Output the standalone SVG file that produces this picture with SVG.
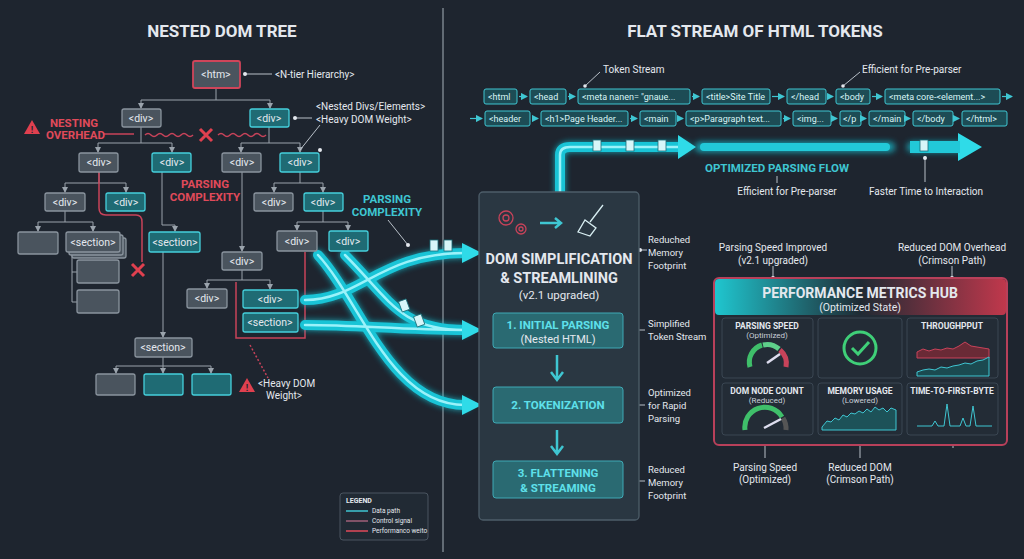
<svg xmlns="http://www.w3.org/2000/svg" width="1024" height="559" viewBox="0 0 1024 559">
<defs>
<style>
text{font-family:"Roboto","Liberation Sans",sans-serif;fill:#e4e8ee}
.t{font-size:10.5px;text-anchor:middle}
.h{font-weight:bold;font-size:17px;text-anchor:middle}
.lb{font-size:10px}
.sl{font-size:9.5px}
.red{fill:#e04a5a;font-weight:bold;font-size:11.5px}
.cy{fill:#3fc6d2;font-weight:bold;font-size:11.5px}
.g{fill:#4a545e;stroke:#8a949e;stroke-width:1.3}
.c{fill:#1f6b74;stroke:#45d0dc;stroke-width:1.3}
.r{fill:none;stroke:#c8435a;stroke-width:1.5}
.tk{fill:#1d4c55;stroke:#3fc6d2;stroke-width:1}
.tkt{font-size:9px;fill:#d8f4f6}
.ar{fill:none;stroke:#9aa3ac;stroke-width:1}
.tube{fill:none;stroke:#19c4d6;stroke-width:10;stroke-linecap:round}
.tin{fill:none;stroke:#9af2fa;stroke-width:2.5;stroke-linecap:round}
.pn{fill:#232c36;stroke:#3a4652;stroke-width:1}
.pt{font-size:8.5px;font-weight:bold;text-anchor:middle}
.ps{font-size:8px;text-anchor:middle;fill:#c8ced6}
.dot{fill:#e4e8ee}
.wl{stroke:#b8c0c8;stroke-width:1;fill:none}
</style>
<marker id="m" markerWidth="6" markerHeight="6" refX="5" refY="3" orient="auto"><path d="M0,0 L6,3 L0,6 z" fill="#9aa3ac"/></marker>
<marker id="mc" markerWidth="6" markerHeight="6" refX="5" refY="3" orient="auto"><path d="M0,0 L6,3 L0,6 z" fill="#3fc6d2"/></marker>
<filter id="gl" x="-20%" y="-20%" width="140%" height="140%"><feGaussianBlur stdDeviation="3"/></filter>
<linearGradient id="hg" x1="0" x2="1"><stop offset="0" stop-color="#1fc6cf"/><stop offset="0.5" stop-color="#1f2a33"/><stop offset="1" stop-color="#c0384c"/></linearGradient>
</defs>
<rect width="1024" height="559" fill="#1e252f"/>
<line x1="443" y1="8" x2="443" y2="552" stroke="#7a838c" stroke-width="1.5"/>
<text class="h" x="222" y="37">NESTED DOM TREE</text>
<text class="h" x="755" y="37">FLAT STREAM OF HTML TOKENS</text>

<g id="connectors">
<g class="ar">
<path d="M216,88 V100 M141,100 H270 M98,143 H172 M241,143 H300 M65,183 H126 M274,183 H323 M38,222 H93 M297,222 H348 M207,280 H270 M116,366 H211 M141,127 V143 M269,127 V143 M99,172 V183 M300,172 V183 M65,211 V222 M323,211 V222 M242,270 V280 M163,357 V366"/>
</g>
<g class="ar" marker-end="url(#m)">
<path d="M141,100 V108"/><path d="M270,100 V108"/>
<path d="M98,143 V152"/><path d="M172,143 V152"/><path d="M241,143 V152"/><path d="M300,143 V152"/>
<path d="M65,183 V192"/><path d="M126,183 V192"/><path d="M274,183 V192"/><path d="M323,183 V192"/>
<path d="M38,222 V231"/><path d="M93,222 V231"/><path d="M297,222 V230"/><path d="M348,222 V230"/>
<path d="M162,172 V225 H175 V231"/><path d="M242,172 V251"/><path d="M163,252 V337"/>
<path d="M207,280 V288"/><path d="M270,280 V289"/>
<path d="M116,366 V373"/><path d="M163,366 V373"/><path d="M211,366 V373"/>
</g>
<path class="ar" d="M72,252 V302 H77 M72,272 H77"/>
<path class="r" d="M99,172 V208 Q99,215 106,215 H136 Q142,215 142,222 V262"/>
<path class="r" d="M305,252 V338 H236 V282"/>
<path class="r" stroke-dasharray="2,2" d="M250,345 L268,378"/>
<path class="r" d="M145,135 q3,-3 6,0 t6,0 t6,0 t6,0 t6,0 t6,0 t6,0 t6,0 M218,135 q3,-3 6,0 t6,0 t6,0 t6,0 t6,0 t6,0 t6,0 t6,0"/>
<path d="M200,129 L212,141 M212,129 L200,141 M132,264 L144,276 M144,264 L132,276" stroke="#e0404f" stroke-width="3"/>
<path class="r" d="M103,134 H134"/>
<path class="wl" d="M245,74 H272 M295,118 H312 M320,125 L300,150 M388,220 L408,245"/>
<circle class="dot" cx="245" cy="74" r="2"/><circle class="dot" cx="295" cy="118" r="2"/><circle class="dot" cx="320" cy="150" r="2"/><circle class="dot" cx="408" cy="245" r="2"/>
<g filter="url(#gl)" opacity="0.8">
<path class="tube" d="M318,255 C360,300 390,405 465,405"/>
<path class="tube" d="M345,255 C390,300 400,330 465,330"/>
<path class="tube" d="M305,300 C360,300 380,253 465,253"/>
<path class="tube" d="M305,325 C360,325 400,330 465,330"/>
<path class="tube" d="M560,192 V155 Q560,147 570,147 H685"/>
<path class="tube" d="M700,147 H890"/>
<path class="tube" d="M912,147 H960"/>
</g>
<path class="tube" stroke-width="6" d="M318,255 C360,300 390,405 465,405"/>
<path class="tube" stroke-width="6" d="M345,255 C390,300 400,330 465,330"/>
<path class="tube" stroke-width="6" d="M305,300 C360,300 380,253 465,253"/>
<path class="tube" stroke-width="6" d="M305,325 C360,325 400,330 465,330"/>
<path class="tin" d="M318,255 C360,300 390,405 465,405 M345,255 C390,300 400,330 465,330 M305,300 C360,300 380,253 465,253 M305,325 C360,325 400,330 465,330"/>
<path d="M462,243 L482,253 L462,263 z M462,320 L482,330 L462,340 z M462,395 L482,405 L462,415 z" fill="#2fdbe8"/>
<path class="tube" stroke-width="8" d="M560,192 V155 Q560,147 570,147 H680"/>
<path class="tin" d="M560,192 V155 Q560,147 570,147 H680"/>
<path d="M678,135 L696,147 L678,159 z M958,133 L982,147 L958,161 z" fill="#2fdbe8"/>
<rect x="700" y="143" width="190" height="8" rx="4" fill="#22c8d8"/>
<rect x="910" y="141" width="50" height="12" fill="#22c8d8"/>
<g fill="#d7f6f9" stroke="#1a6d78" stroke-width="0.8">
<rect x="593" y="140" width="8" height="11"/><rect x="626" y="140" width="8" height="11"/><rect x="658" y="140" width="8" height="11"/><rect x="920" y="140" width="8" height="11"/>
<rect x="430" y="240" width="8" height="11"/><rect x="444" y="240" width="8" height="11"/><rect x="400" y="300" width="8" height="11" transform="rotate(-20 404 305)"/><rect x="415" y="315" width="8" height="11" transform="rotate(-20 419 320)"/>
</g>
<path class="wl" d="M925,156 V182"/><circle class="dot" cx="925" cy="158" r="2"/>
<path class="wl" d="M777,176 V183 M585,86 L600,72 M843,86 L860,72"/><circle class="dot" cx="585" cy="86" r="1.8"/><circle class="dot" cx="843" cy="86" r="1.8"/>
<path class="wl" d="M640,250 H647 M623,330 H645 M623,405 H645 M623,481 H645"/>
<circle class="dot" cx="640" cy="250" r="2"/><circle class="dot" cx="623" cy="330" r="2"/><circle class="dot" cx="623" cy="405" r="2"/><circle class="dot" cx="623" cy="481" r="2"/>
<path class="wl" d="M773,266 V278 M952,266 V278 M765,437 V458 M860,437 V458 M953,437 V448"/>
<circle class="dot" cx="773" cy="278" r="2"/><circle class="dot" cx="952" cy="278" r="2"/><circle class="dot" cx="765" cy="435" r="2"/><circle class="dot" cx="860" cy="435" r="2"/><circle class="dot" cx="953" cy="435" r="2"/>
</g>

<g id="n-htm"><rect x="193" y="61" width="47" height="27" rx="2" fill="#4a545e" stroke="#d0455a" stroke-width="1.8"/><text class="t" x="216" y="78">&lt;htm&gt;</text></g>
<text class="lb" x="275" y="78">&lt;N-tier Hierarchy&gt;</text>
<g id="n-d1"><rect class="g" x="122" y="109" width="39" height="18" rx="2"/><text class="t" x="141" y="122">&lt;div&gt;</text></g>
<g id="n-d2"><rect class="c" x="250" y="109" width="39" height="18" rx="2"/><text class="t" x="269" y="122">&lt;div&gt;</text></g>
<text class="lb" x="316" y="110">&lt;Nested Divs/Elements&gt;</text>
<text class="lb" x="316" y="123">&lt;Heavy DOM Weight&gt;</text>
<g id="warn1"><path d="M32,120 L40,134 H24 z" fill="#e0404f"/><text x="32" y="133" font-size="9" font-weight="bold" text-anchor="middle" style="fill:#1e252f">!</text></g>
<text class="red" x="50" y="127">NESTING</text><text class="red" x="46" y="139">OVERHEAD</text>
<g id="n-d3"><rect class="g" x="79" y="153" width="39" height="19" rx="2"/><text class="t" x="99" y="166">&lt;div&gt;</text></g>
<g id="n-d4"><rect class="c" x="152" y="153" width="39" height="19" rx="2"/><text class="t" x="172" y="166">&lt;div&gt;</text></g>
<g id="n-d5"><rect class="g" x="222" y="153" width="39" height="19" rx="2"/><text class="t" x="242" y="166">&lt;div&gt;</text></g>
<g id="n-d6"><rect class="c" x="280" y="153" width="39" height="19" rx="2"/><text class="t" x="300" y="166">&lt;div&gt;</text></g>
<text class="red" x="205" y="188" text-anchor="middle">PARSING</text><text class="red" x="205" y="201" text-anchor="middle">COMPLEXITY</text>
<text class="cy" x="387" y="203" text-anchor="middle">PARSING</text><text class="cy" x="387" y="216" text-anchor="middle">COMPLEXITY</text>
<g id="n-d7"><rect class="g" x="45" y="193" width="40" height="18" rx="2"/><text class="t" x="65" y="206">&lt;div&gt;</text></g>
<g id="n-d8"><rect class="c" x="106" y="193" width="39" height="18" rx="2"/><text class="t" x="126" y="206">&lt;div&gt;</text></g>
<g id="n-d9"><rect class="g" x="254" y="193" width="39" height="18" rx="2"/><text class="t" x="274" y="206">&lt;div&gt;</text></g>
<g id="n-d10"><rect class="c" x="304" y="193" width="39" height="18" rx="2"/><text class="t" x="323" y="206">&lt;div&gt;</text></g>
<g id="n-b1"><rect class="g" x="18" y="232" width="40" height="22" rx="2"/></g>
<g id="n-s1"><rect class="g" x="72" y="238" width="54" height="20" rx="2"/><rect class="g" x="69" y="235" width="54" height="20" rx="2"/><rect class="g" x="66" y="232" width="54" height="20" rx="2"/><text class="t" x="93" y="246">&lt;section&gt;</text></g>
<g id="n-s2"><rect class="c" x="149" y="232" width="51" height="20" rx="2"/><text class="t" x="175" y="246">&lt;section&gt;</text></g>
<g id="n-d11"><rect class="g" x="277" y="231" width="40" height="20" rx="2"/><text class="t" x="297" y="245">&lt;div&gt;</text></g>
<g id="n-d12"><rect class="c" x="329" y="231" width="39" height="20" rx="2"/><text class="t" x="348" y="245">&lt;div&gt;</text></g>
<g id="n-b2"><rect class="g" x="77" y="260" width="42" height="23" rx="2"/></g>
<g id="n-b3"><rect class="g" x="77" y="290" width="42" height="23" rx="2"/></g>
<g id="n-d13"><rect class="g" x="222" y="252" width="40" height="18" rx="2"/><text class="t" x="242" y="265">&lt;div&gt;</text></g>
<g id="n-d14"><rect class="g" x="187" y="289" width="40" height="19" rx="2"/><text class="t" x="207" y="302">&lt;div&gt;</text></g>
<g id="n-d15"><rect class="c" x="243" y="290" width="55" height="18" rx="2"/><text class="t" x="270" y="303">&lt;div&gt;</text></g>
<g id="n-s3"><rect class="c" x="243" y="313" width="55" height="19" rx="2"/><text class="t" x="270" y="326">&lt;section&gt;</text></g>
<g id="n-s4"><rect class="g" x="135" y="338" width="57" height="19" rx="2"/><text class="t" x="163" y="351">&lt;section&gt;</text></g>
<g id="n-b4"><rect class="g" x="96" y="374" width="39" height="21" rx="2"/></g>
<g id="n-b5"><rect class="c" x="144" y="374" width="39" height="21" rx="2"/></g>
<g id="n-b6"><rect class="c" x="192" y="374" width="39" height="21" rx="2"/></g>
<g id="warn2"><path d="M247,378 L255,392 H239 z" fill="#e0404f"/><text x="247" y="391" font-size="9" font-weight="bold" text-anchor="middle" style="fill:#1e252f">!</text></g>
<text class="lb" x="258" y="387">&lt;Heavy DOM</text><text class="lb" x="266" y="399">Weight&gt;</text>

<g id="tokens">
<rect class="tk" x="484" y="89" width="33" height="15" rx="2"/><text class="tkt" x="488" y="100">&lt;html</text>
<rect class="tk" x="530" y="89" width="36" height="15" rx="2"/><text class="tkt" x="534" y="100">&lt;head</text>
<rect class="tk" x="578" y="89" width="112" height="15" rx="2"/><text class="tkt" x="582" y="100">&lt;meta nanen= "gnaue...</text>
<rect class="tk" x="702" y="89" width="68" height="15" rx="2"/><text class="tkt" x="706" y="100">&lt;title&gt;Site Title</text>
<rect class="tk" x="787" y="89" width="39" height="15" rx="2"/><text class="tkt" x="791" y="100">&lt;/head</text>
<rect class="tk" x="836" y="89" width="34" height="15" rx="2"/><text class="tkt" x="840" y="100">&lt;body</text>
<rect class="tk" x="885" y="89" width="115" height="15" rx="2"/><text class="tkt" x="889" y="100">&lt;meta core-&lt;element...&gt;</text>
<rect class="tk" x="485" y="111" width="45" height="15" rx="2"/><text class="tkt" x="489" y="122">&lt;header</text>
<rect class="tk" x="541" y="111" width="87" height="15" rx="2"/><text class="tkt" x="545" y="122">&lt;h1&gt;Page Header...</text>
<rect class="tk" x="640" y="111" width="36" height="15" rx="2"/><text class="tkt" x="644" y="122">&lt;main</text>
<rect class="tk" x="686" y="111" width="95" height="15" rx="2"/><text class="tkt" x="690" y="122">&lt;p&gt;Paragraph text...</text>
<rect class="tk" x="793" y="111" width="38" height="15" rx="2"/><text class="tkt" x="797" y="122">&lt;img...</text>
<rect class="tk" x="840" y="111" width="21" height="15" rx="2"/><text class="tkt" x="843" y="122">&lt;/p</text>
<rect class="tk" x="869" y="111" width="36" height="15" rx="2"/><text class="tkt" x="873" y="122">&lt;/main</text>
<rect class="tk" x="913" y="111" width="40" height="15" rx="2"/><text class="tkt" x="917" y="122">&lt;/body</text>
<rect class="tk" x="962" y="111" width="45" height="15" rx="2"/><text class="tkt" x="966" y="122">&lt;/html&gt;</text>
<g stroke="#3fc6d2" stroke-width="1.2" marker-end="url(#mc)">
<path d="M519,96.5 H527"/><path d="M568,96.5 H575"/><path d="M692,96.5 H699"/><path d="M772,96.5 H784"/><path d="M828,96.5 H833"/><path d="M872,96.5 H882"/><path d="M1002,96.5 H1012"/>
<path d="M470,118.5 H482"/><path d="M532,118.5 H538"/><path d="M630,118.5 H637"/><path d="M678,118.5 H683"/><path d="M783,118.5 H790"/><path d="M833,118.5 H837"/><path d="M863,118.5 H866"/><path d="M907,118.5 H910"/><path d="M955,118.5 H959"/>
</g>
</g>
<text class="lb" x="603" y="73">Token Stream</text>
<text class="lb" x="862" y="73">Efficient for Pre-parser</text>
<text class="cy" x="777" y="172" text-anchor="middle" font-size="11">OPTIMIZED PARSING FLOW</text>
<text class="lb" x="787" y="195" text-anchor="middle">Efficient for Pre-parser</text>
<text class="lb" x="926" y="195" text-anchor="middle">Faster Time to Interaction</text>

<g id="n-core">
<rect x="479" y="192" width="160" height="328" rx="4" fill="#2a3742" stroke="#4d5d69" stroke-width="1.3"/>
<g fill="none" stroke="#c8435a" stroke-width="1.3"><circle cx="506" cy="218" r="7"/><circle cx="506" cy="218" r="3"/><circle cx="521" cy="229" r="5"/><circle cx="521" cy="229" r="2"/></g>
<path d="M540,223 H560 M555,218 L561,223 L555,228" stroke="#3fc6d2" stroke-width="2.5" fill="none"/>
<path d="M603,205 L590,222 M585,220 L596,228 L590,236 L578,232 z" stroke="#d8eef2" stroke-width="1.3" fill="none"/>
<text x="559" y="264" class="h" style="font-size:14.5px">DOM SIMPLIFICATION</text>
<text x="559" y="283" class="h" style="font-size:14.5px">&amp; STREAMLINING</text>
<text x="559" y="299" text-anchor="middle" font-size="11.5">(v2.1 upgraded)</text>
</g>
<g id="n-step1"><rect x="493" y="313" width="130" height="35" rx="3" fill="#2a6a72" stroke="#3fa9b5"/><text class="cy" x="558" y="329" text-anchor="middle" style="fill:#5ee0ea">1. INITIAL PARSING</text><text x="558" y="343" text-anchor="middle" font-size="11">(Nested HTML)</text></g>
<g id="n-step2"><rect x="493" y="387" width="130" height="36" rx="3" fill="#2a6a72" stroke="#3fa9b5"/><text class="cy" x="558" y="409" text-anchor="middle" style="fill:#5ee0ea">2. TOKENIZATION</text></g>
<g id="n-step3"><rect x="493" y="461" width="130" height="37" rx="3" fill="#2a6a72" stroke="#3fa9b5"/><text class="cy" x="558" y="477" text-anchor="middle" style="fill:#5ee0ea">3. FLATTENING</text><text class="cy" x="558" y="492" text-anchor="middle" style="fill:#5ee0ea">&amp; STREAMING</text></g>
<path d="M557,355 V378 M551,372 L557,380 L563,372 M557,430 V452 M551,446 L557,454 L563,446" stroke="#3fc6d2" stroke-width="2.5" fill="none"/>
<text class="sl" x="648" y="243">Reduched</text><text class="sl" x="648" y="256">Memory</text><text class="sl" x="648" y="269">Footprint</text>
<text class="sl" x="648" y="327">Simplified</text><text class="sl" x="648" y="340">Token Stream</text>
<text class="sl" x="648" y="396">Optimized</text><text class="sl" x="648" y="409">for Rapid</text><text class="sl" x="648" y="422">Parsing</text>
<text class="sl" x="648" y="473">Reduced</text><text class="sl" x="648" y="486">Memory</text><text class="sl" x="648" y="499">Footprint</text>

<text class="lb" x="773" y="251" text-anchor="middle">Parsing Speed Improved</text><text class="lb" x="773" y="264" text-anchor="middle">(v2.1 upgraded)</text>
<text class="lb" x="952" y="251" text-anchor="middle">Reduced DOM Overhead</text><text class="lb" x="952" y="264" text-anchor="middle">(Crimson Path)</text>
<g id="n-hub">
<rect x="714" y="278" width="293" height="167" rx="5" fill="#222b35" stroke="#b8405a" stroke-width="2"/>
<rect x="715" y="279" width="291" height="36" rx="4" fill="url(#hg)"/>
<text x="860" y="298" text-anchor="middle" font-weight="bold" font-size="14">PERFORMANCE METRICS HUB</text>
<text x="860" y="311" text-anchor="middle" font-size="10.5">(Optimized State)</text>
<rect class="pn" x="722" y="318" width="91" height="60" rx="3"/><rect class="pn" x="818" y="318" width="84" height="60" rx="3"/><rect class="pn" x="907" y="318" width="91" height="60" rx="3"/>
<rect class="pn" x="722" y="383" width="91" height="52" rx="3"/><rect class="pn" x="818" y="383" width="84" height="52" rx="3"/><rect class="pn" x="907" y="383" width="91" height="52" rx="3"/>
<text class="pt" x="767" y="329">PARSING SPEED</text><text class="ps" x="767" y="338">(Optimized)</text>
<path d="M750,367 A18,18 0 0 1 762,345" stroke="#3fbf6a" stroke-width="5" fill="none"/><path d="M763,345 A18,18 0 0 1 779,349" stroke="#5ed08a" stroke-width="5" fill="none"/><path d="M780,350 A18,18 0 0 1 786,367" stroke="#c8435a" stroke-width="5" fill="none"/>
<path d="M767,363 L780,354" stroke="#dde" stroke-width="2.5"/>
<circle cx="860" cy="348" r="16" fill="none" stroke="#3fcf78" stroke-width="3"/><path d="M852,348 L858,354 L869,342" fill="none" stroke="#3fcf78" stroke-width="3"/>
<text class="pt" x="952" y="329">THROUGHPPUT</text>
<path d="M917,352 l6,-3 6,2 6,-2 6,1 6,-2 6,1 6,-3 6,-4 6,4 6,1 6,1 6,1 V358 H917 z" fill="#6a2a36" stroke="#c8435a" stroke-width="1"/>
<path d="M917,372 l6,-2 6,-1 6,1 6,-3 6,1 6,-2 6,-1 6,-2 6,1 6,-3 6,-1 6,-3 V376 H917 z" fill="#1b4a50" stroke="#3fc6d2" stroke-width="1"/>
<text class="pt" x="767" y="394">DOM NODE COUNT</text><text class="ps" x="767" y="403">(Reduced)</text>
<path d="M745,430 A20,20 0 0 1 782,417" stroke="#3fbf6a" stroke-width="5" fill="none"/><path d="M783,418 A20,20 0 0 1 786,430" stroke="#555" stroke-width="5" fill="none"/>
<path d="M764,428 L781,419" stroke="#dde" stroke-width="2.5"/>
<text class="pt" x="860" y="394">MEMORY USAGE</text><text class="ps" x="860" y="403">(Lowered)</text>
<path d="M822,427 l5,-6 4,1 4,-4 4,2 4,-5 4,2 4,-4 4,1 4,-3 4,2 4,-4 4,3 4,-5 4,3 4,-2 4,4 4,-4 5,2 V430 H822 z" fill="#1d5258" stroke="#3fc6d2" stroke-width="1"/>
<text class="pt" x="952" y="394">TIME-TO-FIRST-BYTE</text>
<path d="M917,426 H932 l3,-5 3,5 H944 l3,-22 3,22 H960 l3,-8 3,8 h4 l3,-20 3,20 H992" fill="none" stroke="#3fc6d2" stroke-width="1"/>
</g>
<text class="lb" x="765" y="471" text-anchor="middle">Parsing Speed</text><text class="lb" x="765" y="483" text-anchor="middle">(Optimized)</text>
<text class="lb" x="860" y="471" text-anchor="middle">Reduced DOM</text><text class="lb" x="860" y="483" text-anchor="middle">(Crimson Path)</text>

<g id="legend">
<rect x="340" y="493" width="88" height="47" rx="3" fill="#212a34" stroke="#4a5560"/>
<text x="346" y="503" font-size="7" font-weight="bold">LEGEND</text>
<line x1="346" y1="511" x2="368" y2="511" stroke="#3fc6d2" stroke-width="1.5"/><text x="372" y="513" font-size="6.5">Data path</text>
<line x1="346" y1="521" x2="368" y2="521" stroke="#a06078" stroke-width="1.5"/><text x="372" y="523" font-size="6.5">Control signal</text>
<line x1="346" y1="531" x2="368" y2="531" stroke="#e04a5a" stroke-width="1.5"/><text x="372" y="533" font-size="6.5">Performanco weito</text>
</g>
</svg>
